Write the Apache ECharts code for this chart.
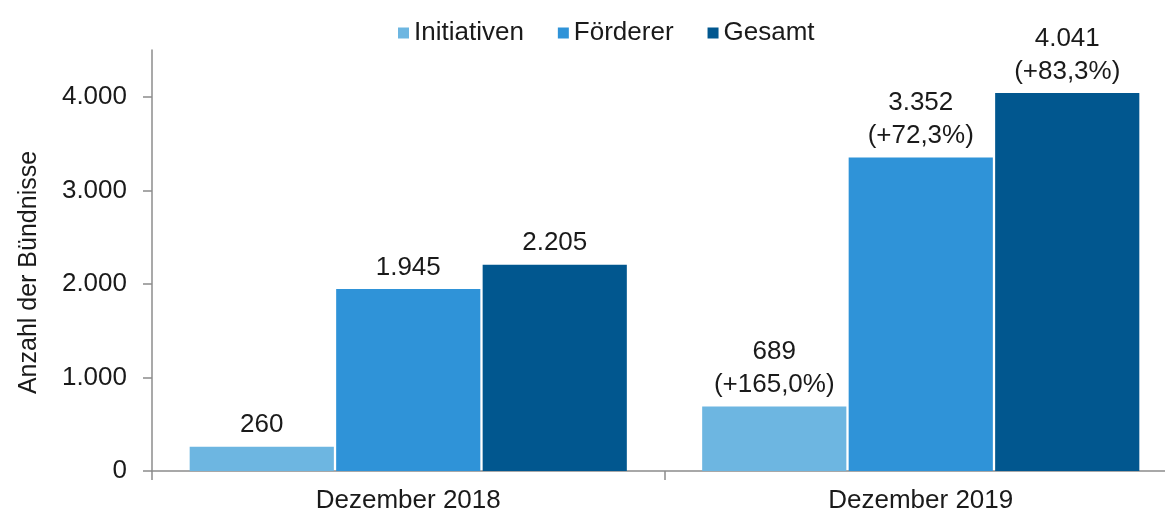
<!DOCTYPE html>
<html>
<head>
<meta charset="utf-8">
<script src="https://cdn.jsdelivr.net/npm/echarts@6/dist/echarts.min.js"></script>
<style>
  html, body { margin: 0; padding: 0; background: #fff; }
  #chart { width: 1165px; height: 516px; }
</style>
</head>
<body>
<div id="chart"></div>
<script>
// Daten
var categories = ["Dezember 2018", "Dezember 2019"];
var seriesNames = ["Initiativen", "Förderer", "Gesamt"];
var initiativen = [260, 689];
var foerderer = [1945, 3352];
var gesamt = [2205, 4041];
var yTicks = [0, 1000, 2000, 3000, 4000];

var colors = ["#6DB6E1", "#2F93D8", "#01578F"];
var FONT = "Liberation Sans";

// Zahl im deutschen Format (Tausenderpunkt)
function fmt(n) {
  return String(n).replace(/\B(?=(\d{3})+(?!\d))/g, ".");
}

// Label: Wert, ab 2019 zusätzlich Veränderung zum Vorjahr
function makeLabel(values) {
  return function (p) {
    var txt = fmt(p.value);
    if (p.dataIndex > 0) {
      var pct = (p.value / values[0] - 1) * 100;
      txt += "\n(+" + pct.toFixed(1).replace(".", ",") + "%)";
    }
    return txt;
  };
}

var chart = echarts.init(document.getElementById("chart"));

var allValues = [initiativen, foerderer, gesamt];
var series = allValues.map(function (vals, i) {
  return {
    name: seriesNames[i],
    type: "bar",
    data: vals,
    barGap: "1.6%",
    barCategoryGap: "14.7%",
    itemStyle: { color: colors[i] },
    label: {
      show: true,
      position: "top",
      distance: 5,
      color: "#1a1a1a",
      fontFamily: FONT,
      fontSize: 26,
      lineHeight: 33,
      formatter: makeLabel(vals),
    },
  };
});

chart.setOption({
  animation: false,
  textStyle: { fontFamily: FONT },
  legend: {
    top: 15,
    left: 393,
    itemWidth: 11,
    itemHeight: 11,
    itemGap: 34,
    icon: "rect",
    textStyle: { fontFamily: FONT, fontSize: 26, color: "#1a1a1a" },
    data: seriesNames,
  },
  // das Original ist rechts leicht abgeschnitten
  grid: {
    left: 152,
    width: 1025,
    top: 50,
    bottom: 45,
    outerBoundsMode: "none",
  },
  xAxis: {
    type: "category",
    data: categories,
    axisLine: { lineStyle: { color: "#8c8c8c", width: 1.5 } },
    axisTick: { show: true, length: 9, lineStyle: { color: "#8c8c8c", width: 1.5 } },
    axisLabel: { color: "#1a1a1a", fontSize: 26, fontFamily: FONT, margin: 17 },
  },
  yAxis: {
    type: "value",
    min: 0,
    max: 4500,
    interval: 1000,
    name: "Anzahl der Bündnisse",
    nameLocation: "middle",
    nameGap: 110,
    nameRotate: 90,
    nameTextStyle: {
      color: "#1a1a1a",
      fontSize: 25,
      fontFamily: FONT,
      padding: [0, 24, 0, 0],
    },
    axisLine: { show: true, lineStyle: { color: "#8c8c8c", width: 1.5 } },
    axisTick: {
      show: true,
      length: 9,
      customValues: yTicks,
      lineStyle: { color: "#8c8c8c", width: 1.5 },
    },
    splitLine: { show: false },
    axisLabel: {
      color: "#1a1a1a",
      fontSize: 26,
      fontFamily: FONT,
      margin: 25,
      customValues: yTicks,
      formatter: function (v) { return fmt(v); },
    },
  },
  series: series,
});
</script>
</body>
</html>
